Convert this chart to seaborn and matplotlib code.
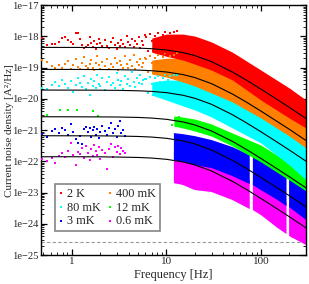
import numpy as np
import pandas as pd
import seaborn as sns
import matplotlib
matplotlib.use("Agg")
import matplotlib.pyplot as plt
from matplotlib.ticker import FixedLocator, LogLocator, NullFormatter

nan = float("nan")

# ---------------- data ----------------
labels = ["2 K", "400 mK", "80 mK", "12 mK", "3 mK", "0.6 mK"]
colors = ["#ff0000", "#ff8000", "#00ffff", "#00ff00", "#0000ff", "#ff00ff"]
y_ticks = [1e-25, 1e-24, 1e-23, 1e-22, 1e-21, 1e-20, 1e-19, 1e-18, 1e-17]
y_tick_labels = ["1e\u221225", "1e\u221224", "1e\u221223", "1e\u221222", "1e\u221221",
                 "1e\u221220", "1e\u221219", "1e\u221218", "1e\u221217"]
x_ticks = [1, 10, 100]
x_tick_labels = ["1", "10", "100"]

# fitted curves
fit_f = [0.47, 1, 2, 3, 5, 7, 10, 15, 20, 30, 50, 70, 100, 150, 200, 300]
fit_2K = [4.43e-19, 4.42e-19, 4.39e-19, 4.35e-19, 4.21e-19, 4.02e-19, 3.66e-19, 3.02e-19,
          2.42e-19, 1.55e-19, 7.18e-20, 3.98e-20, 2.04e-20, 9.31e-21, 5.30e-21, 2.32e-21]
fit_400mK = [8.75e-20, 8.73e-20, 8.67e-20, 8.59e-20, 8.32e-20, 7.94e-20, 7.24e-20, 5.97e-20,
             4.79e-20, 3.06e-20, 1.42e-20, 7.87e-21, 4.04e-21, 1.84e-21, 1.05e-21, 4.59e-22]
fit_80mK = [1.91e-20, 1.90e-20, 1.89e-20, 1.87e-20, 1.81e-20, 1.73e-20, 1.58e-20, 1.30e-20,
            1.04e-20, 6.67e-21, 3.09e-21, 1.71e-21, 8.79e-22, 4.01e-22, 2.28e-22, 1.00e-22]
fit_12mK = [2.67e-21, 2.66e-21, 2.64e-21, 2.62e-21, 2.54e-21, 2.42e-21, 2.21e-21, 1.82e-21,
            1.46e-21, 9.33e-22, 4.33e-22, 2.40e-22, 1.23e-22, 5.61e-23, 3.19e-23, 1.40e-23]
fit_3mK = [6.58e-22, 6.56e-22, 6.52e-22, 6.46e-22, 6.25e-22, 5.97e-22, 5.45e-22, 4.49e-22,
           3.60e-22, 2.30e-22, 1.07e-22, 5.92e-23, 3.03e-23, 1.38e-23, 7.87e-24, 3.45e-24]
fit_06mK = [1.40e-22, 1.40e-22, 1.39e-22, 1.37e-22, 1.33e-22, 1.27e-22, 1.16e-22, 9.55e-23,
            7.66e-23, 4.90e-23, 2.27e-23, 1.26e-23, 6.46e-24, 2.94e-24, 1.67e-24, 7.35e-25]

# sparse low-frequency spectrum points
low_f = [0.48, 0.55, 0.61, 0.67, 0.73, 0.79, 0.85, 0.92, 0.98, 1.04, 1.1, 1.16, 1.23, 1.29,
         1.35, 1.42, 1.48, 1.54, 1.6, 1.67, 1.73, 1.79, 1.85, 1.92, 1.98, 2.1, 2.23, 2.35,
         2.48, 2.6, 2.73, 2.85, 2.98, 3.1, 3.23, 3.35, 3.5, 3.65, 3.8, 3.95, 4.1, 4.3, 4.5,
         4.7, 4.9, 5.1, 5.3, 5.5, 5.7, 5.9]
low_2K = [8.6e-19, 5.2e-19, 5.6e-19, 5.9e-19, 6.7e-19, 8.6e-19, 9.3e-19, 7.6e-19, 6.7e-19,
          5.9e-19, 1.24e-18, 1.29e-18, 8.0e-19, 5.2e-19, 4.1e-19, 4.7e-19, 5.2e-19, 9.7e-19,
          6.3e-19, 4.6e-19, 7.1e-19, 3.9e-19, 5.5e-19, 8.2e-19, 6.0e-19, 4.8e-19, 7.4e-19,
          5.0e-19, 4.3e-19, 6.6e-19, 9.0e-19, 5.3e-19, 3.8e-19, 6.1e-19, 4.9e-19, 7.8e-19,
          5.7e-19, 4.4e-19, 1.05e-18, 6.4e-19, 5.1e-19, 8.4e-19, 4.5e-19, 6.9e-19, 5.8e-19,
          9.5e-19, 4.2e-19, 7.3e-19, 5.4e-19, 1.1e-18]
low_400mK = [1.7e-19, 1.5e-19, 1.1e-19, 9.5e-20, 1.2e-19, 1.0e-19, 1.35e-19, 1.6e-19, 9.0e-20,
             1.25e-19, 1.9e-19, 1.05e-19, 8.8e-20, 1.45e-19, 2.2e-19, 1.15e-19, 9.8e-20,
             1.3e-19, 1.75e-19, 1.0e-19, 8.2e-20, 1.4e-19, 2.4e-19, 1.2e-19, 9.3e-20, 1.55e-19,
             1.1e-19, 1.85e-19, 9.0e-20, 1.3e-19, 1.05e-19, 2.0e-19, 1.4e-19, 8.5e-20, 1.6e-19,
             1.2e-19, 9.6e-20, 2.3e-19, 1.35e-19, 1.0e-19, 1.7e-19, 1.15e-19, 2.6e-19, 9.2e-20,
             1.5e-19, 1.25e-19, 1.95e-19, 1.05e-19, 1.4e-19, 2.1e-19]
low_80mK = [2.3e-20, 2.0e-20, 2.8e-20, 3.4e-20, 2.5e-20, 4.0e-20, 2.9e-20, 2.2e-20, 3.6e-20,
            1.6e-20, 2.7e-20, 4.6e-20, 3.1e-20, 2.4e-20, 5.3e-20, 2.1e-20, 3.3e-20, 1.3e-20,
            4.2e-20, 2.6e-20, 3.8e-20, 2.2e-20, 6.0e-20, 3.0e-20, 2.5e-20, 4.5e-20, 1.9e-20,
            3.5e-20, 5.0e-20, 2.7e-20, 3.2e-20, 2.3e-20, 6.8e-20, 4.1e-20, 2.8e-20, 3.7e-20,
            2.0e-20, 5.5e-20, 3.0e-20, 4.4e-20, 2.6e-20, 7.2e-20, 3.4e-20, 2.4e-20, 4.8e-20,
            3.1e-20, 5.8e-20, 2.9e-20, 3.9e-20, 4.3e-20]
mid_f = [6.1, 6.4, 6.7, 7.0, 7.3, 7.6, 7.9, 8.2, 8.5, 8.8, 9.1, 9.4, 9.7, 10.0, 10.5, 11.0,
         11.5, 12.0, 12.5, 13.0]
mid_2K = [9.5e-19, 3.5e-19, 1.2e-18, 7.0e-19, 3.3e-19, 1.05e-18, 4.5e-19, 1.3e-18, 8.0e-19,
          2.9e-19, 1.1e-18, 6.0e-19, 1.4e-18, 2.6e-19, 9.0e-19, 1.25e-18, 2.4e-19, 1.35e-18,
          7.5e-19, 1.5e-18]
mid_400mK = [1.9e-19, 7.0e-20, 2.3e-19, 1.4e-19, 6.5e-20, 2.1e-19, 9.0e-20, 2.5e-19, 1.6e-19,
             5.8e-20, 2.2e-19, 1.2e-19, 2.7e-19, 5.2e-20, 1.8e-19, 2.4e-19, 4.8e-20, 2.6e-19,
             1.5e-19, 2.9e-19]
mid_80mK = [4.2e-20, 1.5e-20, 5.0e-20, 3.0e-20, 1.3e-20, 4.6e-20, 2.0e-20, 5.5e-20, 3.5e-20,
            1.2e-20, 4.8e-20, 2.6e-20, 5.8e-20, 1.1e-20, 3.9e-20, 5.2e-20, 9.5e-21, 5.6e-20,
            3.2e-20, 6.0e-20]
low_12mK_f = [0.55, 0.75, 0.92, 1.13, 1.69, 1.87, 11.5, 12.2, 12.8, 13.5]
low_12mK = [3.0e-21, 4.3e-21, 4.3e-21, 4.5e-21, 4.1e-21, 2.8e-21, 1.5e-21, 2.3e-21, 1.9e-21, 2.6e-21]
low_sub_f = [0.48, 0.55, 0.61, 0.67, 0.73, 0.79, 0.85, 0.92, 0.98, 1.04, 1.1, 1.16, 1.23, 1.29,
             1.35, 1.42, 1.48, 1.54, 1.6, 1.67, 1.73, 1.79, 1.85, 1.92, 1.98, 2.1, 2.23, 2.35,
             2.48, 2.6, 2.73, 2.85, 2.98, 3.1, 3.23, 3.35, 3.5, 3.65]
low_3mK = [7.5e-22, 6.0e-22, 9.5e-22, 1.1e-21, 8.0e-22, 1.2e-21, 1.0e-21, 7.0e-22, 1.6e-21,
           9.0e-22, 5.0e-22, 4.0e-22, 6.5e-22, 3.6e-22, 1.05e-21, 1.25e-21, 8.5e-22, 1.15e-21,
           6.0e-22, 9.8e-22, 1.3e-21, 7.2e-22, 1.1e-21, 5.5e-22, 8.8e-22, 1.4e-21, 9.5e-22,
           6.8e-22, 1.2e-21, 1.7e-21, 8.2e-22, 1.05e-21, 5.8e-22, 1.35e-21, 1.9e-21, 7.8e-22,
           1.0e-21, 6.3e-22]
low_06mK = [1.2e-22, 1.0e-22, 1.3e-22, 9.0e-23, 1.5e-22, 1.8e-22, 1.4e-22, 2.2e-22, 4.0e-22,
            1.6e-22, 7.5e-23, 2.0e-22, 1.7e-22, 2.6e-22, 1.3e-22, 3.0e-22, 1.9e-22, 1.1e-22,
            2.4e-22, 1.5e-22, 3.3e-22, 2.1e-22, 1.6e-22, 2.8e-22, 1.2e-22, 2.3e-22, 1.8e-22,
            5.5e-23, 2.5e-22, 3.6e-22, 1.4e-22, 2.9e-22, 2.0e-22, 3.2e-22, 1.7e-22, 2.7e-22,
            2.2e-22, 1.9e-22]

# dense high-frequency clouds: upper / lower envelopes of the visible colour bands
band_f = [7, 10, 15, 20, 30, 50, 100, 200, 300]
hi_2K = [8.8e-19, 1.18e-18, 1.18e-18, 1.02e-18, 6.6e-19, 3.1e-19, 8.3e-20, 2.2e-20, 9.1e-21]
lo_2K = [3.1e-19, 2.3e-19, 1.74e-19, 1.29e-19, 8.3e-20, 4.0e-20, 9.1e-21, 2.4e-21, 1.16e-21]
hi_400mK = [1.74e-19, 2.0e-19, 2.0e-19, 1.74e-19, 1.12e-19, 5.35e-20, 1.64e-20, 4.4e-21, 2.09e-21]
lo_400mK = [6.2e-20, 4.97e-20, 3.44e-20, 2.56e-20, 1.53e-20, 7.9e-21, 2.42e-21, 6.4e-22, 2.65e-22]
hi_80mK = [3.44e-20, 3.98e-20, 3.98e-20, 3.44e-20, 2.21e-20, 1.06e-20, 3.0e-21, 6.9e-22, 3.3e-22]
lo_80mK = [1.32e-20, 9.1e-21, 5.9e-21, 4.4e-21, 2.61e-21, 1.16e-21, 3.84e-22, 7.6e-23, 2.51e-23]
band12_f = [12, 15, 20, 30, 50, 100, 200, 300]
hi_12mK = [2.81e-21, 2.61e-21, 2.25e-21, 1.56e-21, 8.0e-22, 3.3e-22, 8.8e-23, 2.91e-23]
lo_12mK = [1.34e-21, 1.16e-21, 9.3e-22, 6.4e-22, 3.08e-22, 9.5e-23, 2.51e-23, 1.12e-23]
bandlow_f = [12, 15, 20, 30, 50, 76, 79, 82, 100, 150, 186, 192, 198, 300]
hi_3mK = [8.0e-22, 7.4e-22, 6.4e-22, 4.8e-22, 2.86e-22, 1.58e-22, nan, 1.47e-22, 1.1e-22,
          4.5e-23, 2.91e-23, nan, 2.7e-23, 1.2e-23]
lo_3mK = [1.1e-22, 9.5e-23, 7.6e-23, 6.1e-23, 3.37e-23, 1.87e-23, nan, 1.74e-23, 1.2e-23,
          5.75e-24, 3.7e-24, nan, 3.44e-24, 1.32e-24]
hi_06mK = [1.98e-22, 1.84e-22, 1.27e-22, 7.6e-23, 4.5e-23, 2.51e-23, nan, 2.33e-23, 1.61e-23,
           7.7e-24, 4.97e-24, nan, 4.6e-24, 1.9e-24]
lo_06mK = [2.01e-23, 1.74e-23, 1.2e-23, 1.04e-23, 5.75e-24, 2.96e-24, nan, 2.75e-24, 1.9e-24,
           7.3e-25, 4.7e-25, nan, 4.06e-25, 2.09e-25]

noise_floor = 2.6e-25

# ---------------- figure ----------------
sns.set_theme(style="ticks")
plt.rcParams["font.family"] = ["Liberation Serif", "DejaVu Serif"]

fig = plt.figure(figsize=(3.09, 2.84), dpi=100)
ax = fig.add_axes([0.132, 0.102, 0.857, 0.880])
ax.set_xscale("log")
ax.set_yscale("log")

lows = [[(low_f, low_2K), (mid_f, mid_2K)],
        [(low_f, low_400mK), (mid_f, mid_400mK)],
        [(low_f, low_80mK), (mid_f, mid_80mK)],
        [(low_12mK_f, low_12mK)],
        [(low_sub_f, low_3mK)],
        [(low_sub_f, low_06mK)]]
bands = [(band_f, hi_2K, lo_2K), (band_f, hi_400mK, lo_400mK), (band_f, hi_80mK, lo_80mK),
         (band12_f, hi_12mK, lo_12mK), (bandlow_f, hi_3mK, lo_3mK), (bandlow_f, hi_06mK, lo_06mK)]
fits = [fit_2K, fit_400mK, fit_80mK, fit_12mK, fit_3mK, fit_06mK]

# draw lowest series first so higher ones sit on top
for i in reversed(range(6)):
    bf, hi, lo = bands[i]
    ax.fill_between(bf, lo, hi, color=colors[i], linewidth=0, zorder=2)
    for k, (lf, lv) in enumerate(lows[i]):
        df = pd.DataFrame({"f": lf, "S": lv})
        sns.scatterplot(data=df, x="f", y="S", ax=ax, color=colors[i], marker="s", s=3.5,
                        linewidth=0, label=labels[i] if k == 0 else None, zorder=3)

for i in range(6):
    dfit = pd.DataFrame({"f": fit_f, "S": fits[i]})
    sns.lineplot(data=dfit, x="f", y="S", ax=ax, color="black", lw=0.8,
                 estimator=None, legend=False, zorder=4)

ax.axhline(noise_floor, color="#999999", lw=0.8, ls=(0, (3, 2)), zorder=1)

ax.set_xlim(0.47, 296)
ax.set_ylim(1e-25, 1e-17)

ax.yaxis.set_major_locator(FixedLocator(y_ticks))
ax.set_yticklabels(y_tick_labels)
ax.yaxis.set_minor_locator(LogLocator(base=10, subs=np.arange(2, 10), numticks=20))
ax.yaxis.set_minor_formatter(NullFormatter())
ax.xaxis.set_major_locator(FixedLocator(x_ticks))
ax.set_xticklabels(x_tick_labels)
ax.xaxis.set_minor_formatter(NullFormatter())

ax.tick_params(which="both", direction="in", top=True, right=True, pad=1.5, color="black")
ax.tick_params(axis="y", labelsize=7.6)
ax.tick_params(axis="x", labelsize=8)
ax.tick_params(which="major", length=4, width=0.9)
ax.tick_params(which="minor", length=2, width=0.6)
for s in ax.spines.values():
    s.set_linewidth(1.0)
    s.set_color("black")

ax.set_xlabel("Frequency [Hz]", fontsize=9, labelpad=2)
ax.set_ylabel("Current noise density [A\u00b2/Hz]", fontsize=8)
ax.yaxis.set_label_coords(-0.1, 0.5)

handles, labs = ax.get_legend_handles_labels()
hmap = dict(zip(labs, handles))
order = ["2 K", "80 mK", "3 mK", "400 mK", "12 mK", "0.6 mK"]
leg = ax.legend([hmap[k] for k in order], order, ncol=2, loc="lower left",
                bbox_to_anchor=(0.052, 0.096), fontsize=8.8, frameon=True, fancybox=False,
                borderpad=0.3, handletextpad=0.25, columnspacing=0.5, labelspacing=0.15,
                handlelength=0.5, markerscale=1.0, borderaxespad=0.0)
leg.get_frame().set_edgecolor("#666666")
leg.get_frame().set_linewidth(1.2)

fig.savefig("out.png", dpi=100)
